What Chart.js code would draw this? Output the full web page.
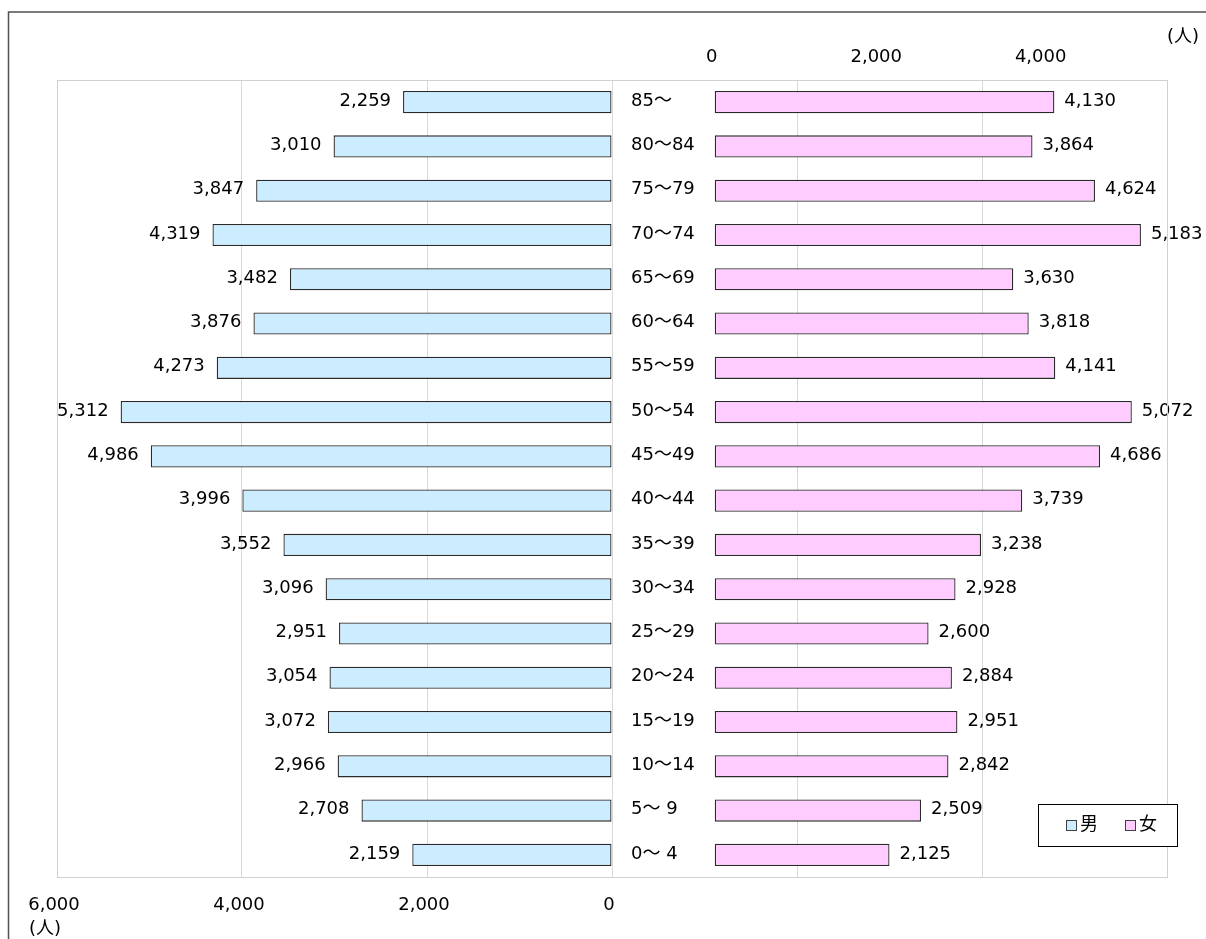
<!DOCTYPE html>
<html lang="ja">
<head>
<meta charset="utf-8">
<title>年齢別人口</title>
<script src="https://cdn.jsdelivr.net/npm/chart.js@4/dist/chart.umd.min.js"></script>
<style>
  html, body { margin: 0; padding: 0; background: #fff; }
  #wrap { width: 1206px; height: 939px; }
</style>
</head>
<body>
<div id="wrap"><canvas id="pyramid" width="1206" height="939"></canvas></div>
<script>
// 5歳階級別人口（上が高齢）
const ageGroups = ['85～', '80～84', '75～79', '70～74', '65～69', '60～64', '55～59', '50～54', '45～49',
  '40～44', '35～39', '30～34', '25～29', '20～24', '15～19', '10～14', '5～ 9', '0～ 4'];
const male = [2259, 3010, 3847, 4319, 3482, 3876, 4273, 5312, 4986, 3996, 3552, 3096, 2951, 3054, 3072, 2966, 2708, 2159];
const female = [4130, 3864, 4624, 5183, 3630, 3818, 4141, 5072, 4686, 3739, 3238, 2928, 2600, 2884, 2951, 2842, 2509, 2125];
const maleTicks = [0, 2000, 4000, 6000];
const femaleTicks = [0, 2000, 4000];

const FONT = '"DejaVu Sans", "Noto Sans CJK JP", sans-serif';
const fmt = v => v.toLocaleString('en-US');

// 枠線・凡例・単位・ラベル
const decor = {
  id: 'decor',
  beforeDraw(chart) {
    const ctx = chart.ctx;
    ctx.save();
    ctx.fillStyle = '#fff';
    ctx.fillRect(0, 0, chart.width, chart.height);
    ctx.strokeStyle = '#505050';
    ctx.lineWidth = 1.5;
    ctx.beginPath();
    ctx.moveTo(8.5, chart.height);
    ctx.lineTo(8.5, 12);
    ctx.lineTo(chart.width, 12);
    ctx.stroke();
    ctx.restore();
  },
  afterDatasetsDraw(chart) {
    const ctx = chart.ctx;
    ctx.save();
    ctx.font = '18px ' + FONT;
    ctx.fillStyle = '#000';
    ctx.textBaseline = 'middle';
    chart.data.datasets.forEach((ds, i) => {
      chart.getDatasetMeta(i).data.forEach((bar, j) => {
        const text = fmt(ds.data[j]);
        if (ds.xAxisID === 'xm') {
          ctx.textAlign = 'right';
          ctx.fillText(text, bar.x - 12, bar.y - 1);
        } else {
          ctx.textAlign = 'left';
          ctx.fillText(text, bar.x + 10, bar.y - 1);
        }
      });
    });
    // 年齢階級ラベル
    const x0 = chart.scales.xm.getPixelForValue(0);
    ctx.textAlign = 'left';
    ageGroups.forEach((g, j) => {
      ctx.fillText(g, x0 + 19, chart.scales.y.getPixelForTick(j) - 1);
    });
    ctx.restore();
  },
  afterDraw(chart) {
    const ctx = chart.ctx;
    const a = chart.chartArea;
    ctx.save();
    ctx.strokeStyle = '#d0d0d0';
    ctx.lineWidth = 1;
    ctx.strokeRect(Math.round(a.left) + 0.5, Math.round(a.top) + 0.5,
      Math.round(a.right - a.left), Math.round(a.bottom - a.top));

    ctx.fillStyle = '#000';
    ctx.font = '18px ' + FONT;
    ctx.textBaseline = 'middle';
    ctx.textAlign = 'left';
    ctx.fillText('(人)', 29, 929);
    ctx.fillText('(人)', 1167, 37);

    // 凡例
    const lx = 1038.5, ly = 804.5, lw = 139, lh = 42;
    ctx.fillStyle = '#fff';
    ctx.fillRect(lx, ly, lw, lh);
    ctx.strokeStyle = '#000';
    ctx.strokeRect(lx, ly, lw, lh);
    const items = [[1066, chart.data.datasets[0]], [1125, chart.data.datasets[1]]];
    items.forEach(([x, ds]) => {
      ctx.fillStyle = ds.backgroundColor;
      ctx.fillRect(x + 0.5, 820.5, 10, 10);
      ctx.strokeStyle = '#404040';
      ctx.strokeRect(x + 0.5, 820.5, 10, 10);
      ctx.fillStyle = '#000';
      ctx.fillText(ds.label, x + 14, 825);
    });
    ctx.restore();
  }
};

const tickFont = { family: FONT, size: 18 };
const barStyle = {
  borderColor: '#2a2a2a',
  borderWidth: 1.3,
  borderSkipped: false,
  barPercentage: 0.5,
  categoryPercentage: 1,
  grouped: false
};

new Chart(document.getElementById('pyramid'), {
  type: 'bar',
  data: {
    labels: ageGroups,
    datasets: [
      Object.assign({ label: '男', data: male, xAxisID: 'xm', yAxisID: 'y', backgroundColor: '#CCECFF' }, barStyle),
      Object.assign({ label: '女', data: female, xAxisID: 'xf', yAxisID: 'y', backgroundColor: '#FFCCFF' }, barStyle)
    ]
  },
  options: {
    indexAxis: 'y',
    responsive: false,
    animation: false,
    events: [],
    layout: { padding: { left: 57, right: 39, top: 0, bottom: 0 } },
    plugins: { legend: { display: false }, tooltip: { enabled: false } },
    scales: {
      y: { type: 'category', display: false },
      xm: {
        type: 'linear',
        position: 'bottom',
        reverse: true,
        min: -6000,
        max: 6000,
        grid: { color: '#d9d9d9', drawTicks: false },
        border: { display: false },
        ticks: {
          stepSize: 2000,
          autoSkip: false,
          maxRotation: 0,
          padding: 18,
          labelOffset: -3,
          color: '#000',
          font: tickFont,
          callback: v => maleTicks.includes(v) ? fmt(v) : ''
        },
        afterFit: s => { s.height = 62; }
      },
      xf: {
        type: 'linear',
        position: 'top',
        min: -8000,
        max: 5500,
        grid: { display: false, drawTicks: false },
        border: { display: false },
        afterBuildTicks: s => { s.ticks = femaleTicks.map(v => ({ value: v })); },
        ticks: {
          autoSkip: false,
          maxRotation: 0,
          padding: 12,
          labelOffset: -3,
          color: '#000',
          font: tickFont,
          callback: v => fmt(v)
        },
        afterFit: s => { s.height = 80; }
      }
    }
  },
  plugins: [decor]
});
</script>
</body>
</html>
